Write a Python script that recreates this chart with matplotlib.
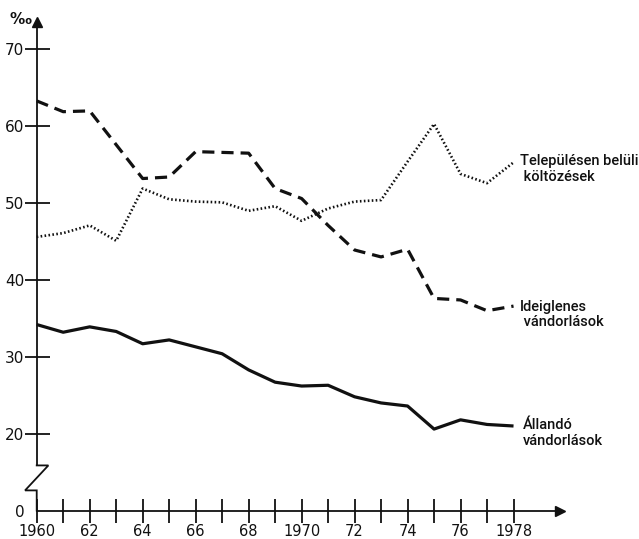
import matplotlib
matplotlib.use("Agg")
import matplotlib.pyplot as plt

years = list(range(1960, 1979))
allando = [34.2, 33.2, 33.9, 33.3, 31.7, 32.2, 31.3, 30.4, 28.3, 26.7, 26.2,
           26.3, 24.8, 24.0, 23.6, 20.6, 21.8, 21.2, 21.0]
ideiglenes = [63.3, 61.9, 62.0, 57.6, 53.2, 53.4, 56.7, 56.6, 56.5, 51.9, 50.6,
              47.1, 43.9, 43.0, 44.0, 37.6, 37.4, 36.0, 36.6]
telepulesen = [45.6, 46.1, 47.1, 45.1, 51.9, 50.5, 50.2, 50.1, 49.0, 49.6, 47.7,
               49.3, 50.2, 50.4, 55.4, 60.3, 53.8, 52.6, 55.3]

ytick_vals = [10, 20, 30, 40, 50, 60, 70]
ytick_labels = ["0", "20", "30", "40", "50", "60", "70"]
xtick_labels = ["1960", "", "62", "", "64", "", "66", "", "68", "", "1970",
                "", "72", "", "74", "", "76", "", "1978"]

plt.rcParams['font.family'] = ['DejaVu Sans']
fig = plt.figure(figsize=(6.39, 5.39), dpi=100)
ax = fig.add_axes([0.016, 0.0243, 0.912, 0.9553])
ax.set_xlim(1959, 1981)
ax.set_ylim(8, 75)

lc = '#111111'
ax.plot(years, allando, color=lc, lw=2.3, solid_joinstyle='round', solid_capstyle='butt')
ax.plot(years, ideiglenes, color=lc, lw=2.3, linestyle=(0, (3.8, 2.2)))
ax.plot(years, telepulesen, color=lc, lw=1.9, linestyle=(0, (0.6, 0.9)))

# axes
for s in ['top', 'right']:
    ax.spines[s].set_visible(False)
ax.spines['left'].set_position(('data', 1960))
ax.spines['bottom'].set_position(('data', 10))
ax.spines['left'].set_bounds(15.87, 73.5)
ax.spines['bottom'].set_bounds(1960, 1979.8)
for s in ['left', 'bottom']:
    ax.spines[s].set_linewidth(1.3)
    ax.spines[s].set_color(lc)

# arrows
ax.plot([1960], [73.6], marker='^', color=lc, markersize=7, clip_on=False)
ax.plot([1979.75], [10], marker='>', color=lc, markersize=7, clip_on=False)

# axis break zigzag
ax.plot([1960, 1960.44, 1959.56, 1960, 1960], [15.87, 15.87, 12.62, 12.62, 10],
        color=lc, lw=1.3, clip_on=False, solid_joinstyle='miter')

ax.set_yticks(ytick_vals)
ax.set_yticklabels(ytick_labels)
ax.set_xticks(years)
ax.set_xticklabels(xtick_labels)
ax.tick_params(axis='y', direction='inout', length=18, width=1.3, pad=0,
               labelsize=11, colors=lc)
ax.tick_params(axis='x', direction='inout', length=17, width=1.3, pad=1.2,
               labelsize=10.5, colors=lc)
ax.yaxis.get_major_ticks()[0].tick1line.set_visible(False)
ax.yaxis.get_major_ticks()[0].tick2line.set_visible(False)

fig.text(10 / 639, 1 - 19 / 539, '‰', fontsize=11, fontweight='bold',
         color=lc, va='center', ha='left')

lab_font = ['Roboto', 'DejaVu Sans']
ax.text(1978.24, 54.4, "Településen belüli\n költözések", fontsize=10.5,
        fontweight='medium', ha='left', va='center', linespacing=1.15,
        color=lc, family=lab_font)
ax.text(1978.24, 35.5, "Ideiglenes\n vándorlások", fontsize=10.5,
        fontweight='medium', ha='left', va='center', linespacing=1.15,
        color=lc, family=lab_font)
ax.text(1978.35, 20.1, "Állandó\nvándorlások", fontsize=10.5,
        fontweight='medium', ha='left', va='center', linespacing=1.15,
        color=lc, family=lab_font)

fig.savefig("out.png", dpi=100)
